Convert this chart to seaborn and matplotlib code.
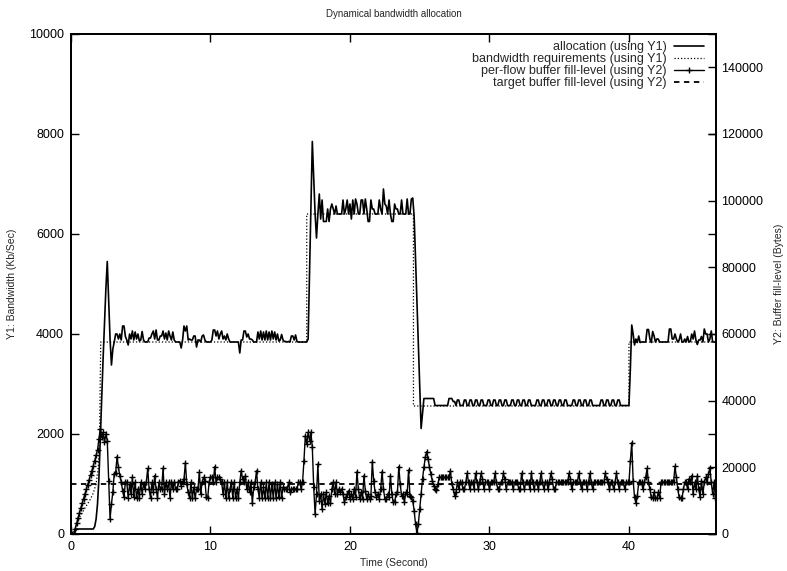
import numpy as np
import matplotlib
matplotlib.use("Agg")
import matplotlib.pyplot as plt
import seaborn as sns
from matplotlib.lines import Line2D

sns.set_style("ticks")
plt.rcParams['font.family'] = ['Liberation Sans', 'DejaVu Sans']

SAMPLE_STEP = 0.1  # seconds between samples

# Y1: bandwidth allocation (Kb/Sec), one value per 0.1 s
allocation = [
    0, 0, 0, 50, 100, 100, 100, 100, 100, 100,
    100, 100, 100, 100, 100, 100, 100, 150, 300, 600,
    1100, 1900, 2700, 3500, 4200, 4900, 5450, 4700, 3900, 3380,
    3700, 3840, 4000, 4000, 3900, 4000, 3880, 4160, 4160, 3950,
    3880, 3780, 4000, 3900, 4060, 3880, 4040, 3900, 4000, 3860,
    3880, 4050, 3880, 3840, 3840, 3840, 3920, 3920, 4000, 4060,
    3900, 4080, 3880, 3880, 3960, 3960, 4060, 3900, 4020, 3880,
    4060, 3960, 3880, 4040, 3880, 3840, 3840, 3840, 3840, 3720,
    3880, 4160, 4060, 4160, 3880, 3900, 3880, 3880, 3960, 3960,
    3740, 3880, 3880, 3840, 3960, 3980, 3880, 3840, 3840, 3840,
    3840, 3880, 4080, 4080, 3960, 4060, 3900, 4000, 4060, 3900,
    3960, 3880, 4000, 3900, 3840, 3840, 3840, 3840, 3840, 3840,
    3840, 3620, 3880, 3880, 4060, 4060, 3940, 4000, 3900, 3900,
    3880, 3840, 3840, 3840, 4040, 3900, 4060, 3880, 4040, 3880,
    4060, 3880, 4040, 3880, 4060, 3900, 4040, 3880, 4000, 3860,
    3880, 3990, 3880, 3850, 3850, 3840, 3850, 3840, 3960, 3960,
    3880, 3980, 3850, 3840, 3840, 3840, 3840, 3840, 3840, 3840,
    3900, 5200, 6500, 7850, 7100, 6400, 5920, 6400, 6800, 6300,
    6680, 6250, 6250, 6250, 6500, 6250, 6500, 6600, 6500, 6400,
    6560, 6400, 6400, 6400, 6400, 6680, 6400, 6500, 6680, 6400,
    6600, 6300, 6680, 6400, 6700, 6600, 6400, 6400, 6680, 6680,
    6400, 6700, 6500, 6250, 6250, 6680, 6500, 6500, 6400, 6400,
    6400, 6680, 6500, 6400, 6900, 6600, 6560, 6400, 6680, 6400,
    6250, 6250, 6600, 6500, 6500, 6400, 6400, 6680, 6400, 6400,
    6400, 6700, 6400, 6400, 6700, 6720, 6350, 5500, 4650, 3800,
    2950, 2110, 2400, 2710, 2710, 2710, 2710, 2710, 2710, 2710,
    2710, 2570, 2570, 2570, 2570, 2570, 2570, 2570, 2570, 2570,
    2570, 2710, 2710, 2710, 2650, 2650, 2570, 2680, 2680, 2570,
    2570, 2570, 2680, 2680, 2570, 2570, 2680, 2680, 2570, 2570,
    2680, 2680, 2570, 2570, 2680, 2680, 2570, 2570, 2570, 2680,
    2680, 2570, 2570, 2680, 2680, 2570, 2570, 2680, 2680, 2570,
    2570, 2680, 2680, 2570, 2570, 2570, 2680, 2680, 2570, 2570,
    2680, 2680, 2570, 2570, 2680, 2680, 2570, 2570, 2680, 2680,
    2570, 2570, 2570, 2570, 2680, 2680, 2570, 2570, 2680, 2680,
    2570, 2570, 2680, 2680, 2570, 2570, 2680, 2680, 2570, 2570,
    2680, 2680, 2570, 2570, 2680, 2680, 2570, 2570, 2570, 2570,
    2680, 2680, 2570, 2570, 2680, 2680, 2570, 2570, 2680, 2680,
    2570, 2570, 2680, 2680, 2570, 2570, 2570, 2570, 2570, 2570,
    2680, 2680, 2570, 2570, 2680, 2680, 2570, 2570, 2680, 2680,
    2570, 2570, 2680, 2680, 2570, 2570, 2570, 2570, 2570, 2570,
    2570, 3300, 4180, 4000, 3780, 3900, 3830, 3960, 3830, 3840,
    3840, 3840, 3840, 4090, 4090, 3900, 3830, 4050, 3960, 3840,
    3900, 3900, 3840, 3840, 3840, 3840, 3840, 3840, 3840, 4100,
    4100, 3900, 3900, 4000, 3900, 3840, 3880, 4000, 3840, 3840,
    3900, 3840, 3950, 3840, 3850, 4000, 3900, 4060, 3880, 3790,
    3880, 3880, 3950, 3840, 4100, 4000, 4000, 3840, 3900, 4060,
    3840, 3840, 3840,
]

# Y2: per-flow buffer fill-level (Bytes), one value per 0.1 s
buffer_fill = [
    0, 0, 0, 1500, 3200, 4800, 6300, 7800, 9200, 10600,
    12000, 13400, 14800, 16200, 17600, 19000, 20500, 22000, 23600, 25200,
    28500, 31500, 29000, 30500, 27500, 30000, 28000, 16000, 4600, 9000,
    12700, 18000, 18200, 23200, 20000, 17500, 15700, 13000, 11000, 15700,
    15500, 10800, 15000, 12000, 17000, 11000, 15500, 10800, 13500, 10800,
    15500, 12000, 15000, 13500, 15500, 19700, 13500, 10800, 15500, 12500,
    17500, 13500, 10800, 15500, 13500, 13500, 19800, 12000, 15500, 13500,
    15500, 10800, 15500, 13500, 15500, 13500, 13500, 15500, 16000, 14500,
    15500, 16500, 21400, 15000, 12500, 10800, 15500, 10800, 14000, 10800,
    13500, 13500, 18600, 12000, 15500, 17000, 16000, 11000, 10800, 15500,
    17100, 17100, 15500, 20200, 15500, 17000, 17000, 16500, 15500, 12000,
    15500, 10800, 15500, 10800, 13500, 15500, 10800, 15500, 10800, 13500,
    10800, 15500, 19000, 16500, 15500, 17500, 13500, 15500, 12500, 15500,
    9300, 14000, 15500, 19000, 13500, 10800, 15500, 10800, 14000, 10800,
    15500, 10800, 15500, 10800, 15000, 10800, 15500, 10800, 15000, 11000,
    15500, 10800, 14000, 13500, 13500, 13500, 15500, 12500, 13500, 13500,
    13500, 13500, 13500, 15500, 15500, 13500, 15500, 22000, 29500, 27000,
    30500, 28000, 30500, 26000, 14000, 6000, 12000, 21000, 10000, 12000,
    7500, 12000, 9000, 12500, 9200, 11500, 9200, 13500, 15500, 12000,
    15500, 12000, 13500, 12500, 13500, 12000, 9500, 11000, 12000, 13000,
    10500, 12000, 10500, 13500, 11000, 18700, 13500, 10500, 12500, 10500,
    17500, 13000, 10500, 12000, 10500, 11500, 21700, 16000, 12500, 11000,
    12000, 10500, 13500, 18700, 13500, 10500, 10500, 12000, 11000, 17500,
    12000, 9500, 9500, 12000, 12500, 20200, 15000, 11500, 12000, 9500,
    12500, 12000, 19200, 11500, 11000, 10000, 7000, 3000, 200, 3000,
    7500, 12000, 16500, 20000, 23000, 24700, 22500, 20000, 18000, 16000,
    14500, 13500, 13200, 15000, 17000, 17000, 17000, 17000, 17000, 17000,
    17000, 17000, 19000, 15000, 13500, 11500, 12500, 15500, 13500, 15500,
    15500, 13400, 13400, 15500, 18200, 15500, 13400, 15500, 15500, 13400,
    18200, 15500, 13400, 15500, 18200, 16500, 13400, 15500, 15500, 15500,
    13400, 15500, 15500, 15500, 18200, 15500, 13400, 13400, 15500, 15500,
    18200, 16500, 13400, 15500, 15500, 15500, 15500, 13400, 15500, 15500,
    15500, 13400, 13400, 18200, 15500, 13400, 15500, 15500, 15500, 13400,
    18200, 15500, 13400, 15500, 15500, 13400, 15500, 18200, 15500, 13400,
    15500, 15500, 13400, 15500, 18200, 16500, 13400, 13400, 15500, 15500,
    15500, 15500, 15500, 15500, 15500, 15500, 15500, 18200, 16500, 13400,
    15500, 15500, 15500, 15500, 18200, 15500, 13400, 15500, 15500, 15500,
    13400, 15500, 18200, 15500, 13400, 15500, 15500, 15500, 15500, 15500,
    15500, 15500, 15500, 18200, 16500, 15500, 13400, 15500, 15500, 13400,
    15500, 18200, 15500, 13400, 15500, 15500, 15500, 13400, 15500, 15500,
    15500, 22000, 27400, 16000, 11000, 9200, 11500, 15500, 15500, 15500,
    13400, 15500, 17000, 19700, 15500, 13400, 11000, 10700, 12500, 10700,
    10700, 12500, 10700, 15500, 15500, 15500, 15500, 15500, 15500, 15500,
    15500, 15500, 15500, 20300, 17000, 13400, 11000, 10700, 10700, 13400,
    15500, 15500, 13400, 16500, 15500, 17500, 12000, 15500, 13400, 17500,
    13400, 11000, 16000, 12000, 15500, 17000, 15500, 18000, 19800, 15500,
    12000, 15500, 10700,
]

time = np.round(np.arange(len(allocation)) * SAMPLE_STEP, 1)

# Y1: bandwidth requirements (Kb/Sec), breakpoints
req_time = [0, 0.2, 0.6, 1.0, 1.4, 1.6, 1.8, 1.96, 2.05, 2.13,
            16.9, 16.9, 24.55, 24.55, 40.0, 40.0, 46.2]
req_value = [0, 40, 330, 520, 700, 820, 1000, 1350, 2000, 3840,
             3840, 6400, 6400, 2560, 2560, 3840, 3840]

# Y2: target buffer fill-level (Bytes)
target_time = [0, 46.2]
target_value = [15000, 15000]

labels = ["allocation (using Y1)",
          "bandwidth requirements (using Y1)",
          "per-flow buffer fill-level (using Y2)",
          "target buffer fill-level (using Y2)"]

W, H = 787, 571
fig = plt.figure(figsize=(W / 100, H / 100), dpi=100)
ax = fig.add_axes([71 / W, 1 - 534 / H, 645 / W, 500 / H])
ax2 = ax.twinx()

dotted = (0, (1, 1.6))
dashed = (0, (3, 2.5))

sns.lineplot(x=time, y=allocation, ax=ax, color="black", lw=1.2,
             estimator=None, legend=False)
sns.lineplot(x=req_time, y=req_value, ax=ax, color="black", lw=0.9,
             linestyle=dotted, estimator=None, sort=False, legend=False)
sns.lineplot(x=time, y=buffer_fill, ax=ax2, color="black", lw=1.0,
             marker="+", markersize=4, markeredgewidth=1.0,
             markeredgecolor="black", markerfacecolor="black",
             estimator=None, legend=False)
sns.lineplot(x=target_time, y=target_value, ax=ax2, color="black", lw=1.3,
             linestyle=dashed, estimator=None, legend=False)

ax.set_xlim(0, 46.24)
ax.set_ylim(0, 10000)
ax2.set_ylim(0, 150000)
ax.set_xticks([0, 10, 20, 30, 40])
ax.set_yticks(range(0, 10001, 2000))
ax2.set_yticks(range(0, 140001, 20000))

ax.tick_params(direction="in", length=6, width=1, top=True, right=True,
               labelsize=9, pad=5, colors="black")
ax2.tick_params(direction="in", length=6, width=1, labelsize=9, pad=4,
                colors="black")
for a in (ax, ax2):
    for s in a.spines.values():
        s.set_visible(True)
        s.set_linewidth(1.3)
        s.set_color("black")

ax.set_xlabel("Time (Second)", fontsize=7.5)
ax.xaxis.set_label_coords(0.5, (534 - 563) / 500)
ax.xaxis.label.set_va("center")
ax.set_ylabel("Y1: Bandwidth (Kb/Sec)", fontsize=7.5)
ax.yaxis.set_label_coords((12 - 71) / 645, 0.5)
ax.yaxis.label.set_va("center")
ax2.set_ylabel("Y2: Buffer fill-level (Bytes)", fontsize=7.5, rotation=90)
ax2.yaxis.set_label_coords((779 - 71) / 645, 0.5)
ax2.yaxis.label.set_va("center")

fig.text(393.5 / W, 1 - 14 / H, "Dynamical bandwidth allocation",
         ha="center", va="center", fontsize=7)

handles = [
    Line2D([], [], color="black", lw=1.2),
    Line2D([], [], color="black", lw=0.9, linestyle=dotted),
    Line2D([], [], color="black", lw=1.0, marker="+", markersize=4,
           markeredgewidth=1.0),
    Line2D([], [], color="black", lw=1.3, linestyle=dashed),
]
ax2.legend(handles, labels, loc="upper right",
           bbox_to_anchor=(704 / W, 1 - 41 / H), bbox_transform=fig.transFigure,
           frameon=False, markerfirst=False, fontsize=9, numpoints=1,
           handlelength=2.4, handletextpad=0.6, labelspacing=0.0,
           borderpad=0, borderaxespad=0)

fig.savefig("out.png", dpi=100)
